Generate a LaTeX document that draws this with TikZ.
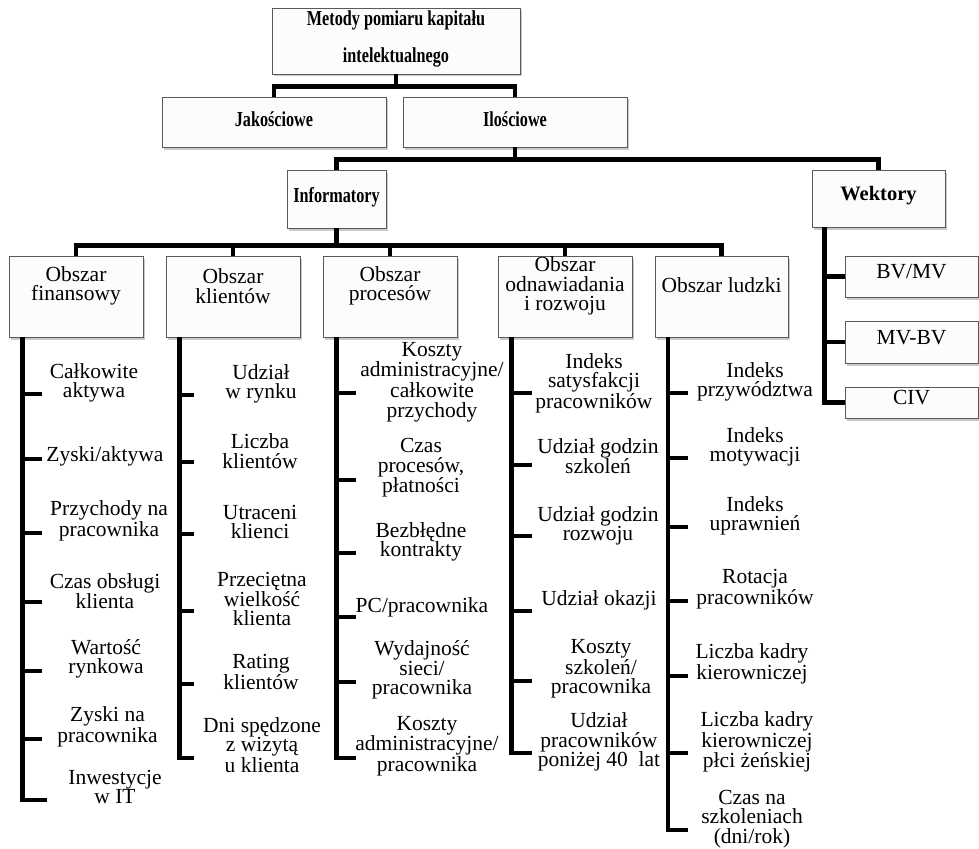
\documentclass[tikz,border=0pt]{standalone}
\usepackage{fontspec}
\setmainfont{Liberation Serif}
\newfontfamily\condbf[FakeStretch=0.76]{Liberation Serif}
\usetikzlibrary{shadows}
\tikzset{
  box/.style={draw=black!65, line width=0.8pt, fill=black!1, inner sep=0pt,
    drop shadow={shadow xshift=2pt, shadow yshift=-2.5pt, opacity=0.35, fill=black!60}},
  conn/.style={line width=4.5pt, line join=miter, draw=black},
  txt/.style={font=\fontsize{21.5}{19.5}\selectfont, align=center, inner sep=0pt},
  btxt/.style={font=\condbf\bfseries\fontsize{21.3}{37}\selectfont, align=center, inner sep=0pt},
  wtxt/.style={font=\bfseries\fontsize{20.5}{24}\selectfont, align=center, inner sep=0pt}
}
\begin{document}
\begin{tikzpicture}[x=1pt,y=-1pt]
\useasboundingbox (0,0) rectangle (979,848);
% ---- boxes
\node[box, minimum width=248, minimum height=66] (title) at (396,41) {};
\node[box, minimum width=224, minimum height=50] (jak) at (274,122) {};
\node[box, minimum width=224, minimum height=50] (ilo) at (515,122) {};
\node[box, minimum width=99, minimum height=58] (inf) at (336.5,199) {};
\node[box, minimum width=133, minimum height=57] (wek) at (878.5,198.5) {};
\node[box, minimum width=134, minimum height=81] (fin) at (76,296.5) {};
\node[box, minimum width=134, minimum height=81] (cl) at (233,296.5) {};
\node[box, minimum width=134, minimum height=81] (pro) at (390,296.5) {};
\node[box, minimum width=134, minimum height=81] (odn) at (565,296.5) {};
\node[box, minimum width=133, minimum height=81] (lud) at (721.5,296.5) {};
\node[box, minimum width=133, minimum height=41] (bv) at (911.5,276.5) {};
\node[box, minimum width=133, minimum height=42] (mvbv) at (911.5,342) {};
\node[box, minimum width=133, minimum height=31] (civ) at (911.5,402.5) {};
% ---- box texts
\node[btxt] (titleT) at (396,38.5) {Metody pomiaru kapitału\\intelektualnego};
\node[btxt] (jakT) at (274,119) {Jakościowe};
\node[btxt] (iloT) at (515,119) {Ilościowe};
\node[btxt] (infT) at (336.5,197) {Informatory};
\node[wtxt] (wekT) at (878.5,196) {Wektory};
\node[txt] (finT) at (76,286) {Obszar\\finansowy};
\node[txt] (clT) at (233,286) {Obszar\\klientów};
\node[txt] (proT) at (390,286) {Obszar\\procesów};
\node[txt] (odnT) at (565,286) {Obszar\\odnawiadania\\i rozwoju};
\node[txt] (ludT) at (721.5,285) {Obszar ludzki};
\node[txt] (bvT) at (911.5,272) {BV/MV};
\node[txt] (mvbvT) at (911.5,338) {MV-BV};
\node[txt] (civT) at (911.5,398) {CIV};
% ---- upper connectors
\coordinate (tbar) at ([yshift=-12pt]title.south);
\draw[conn] (title.south) -- (tbar);
\draw[conn] (jak.north) |- (tbar) -| (ilo.north);
\coordinate (ibar) at ([yshift=-12pt]ilo.south);
\draw[conn] (ilo.south) -- (ibar);
\draw[conn] (inf.north) |- (ibar) -| (wek.north);
\coordinate (obar) at ([yshift=-17pt]inf.south);
\draw[conn] (inf.south) -- (obar);
\draw[conn] (fin.north) |- (obar) -| (lud.north);
\draw[conn] (cl.north) -- (cl.north |- obar);
\draw[conn] (pro.north) -- (pro.north |- obar);
\draw[conn] (odn.north) -- (odn.north |- obar);
% ---- vectors
\coordinate (ws) at ([xshift=13pt]wek.south west);
\draw[conn] (ws) |- (civ.west);
\draw[conn] (ws |- bv.west) -- (bv.west);
\draw[conn] (ws |- mvbv.west) -- (mvbv.west);
% ---- finansowy
\coordinate (fs) at ([xshift=14pt]fin.south west);
\foreach \i/\y in {1/394,2/459,3/533,4/602,5/671,6/739} {\coordinate (f\i) at (42,\y);}
\coordinate (f7) at (47,800);
\draw[conn] (fs) |- (f7);
\foreach \i in {1,...,6} {\draw[conn] (fs |- f\i) -- (f\i);}
\node[txt] (fi1) at (94,383) {Całkowite\\aktywa};
\node[txt] (fi2) at (105,456) {Zyski/aktywa};
\node[txt] (fi3) at (109,521) {Przychody na\\pracownika};
\node[txt] (fi4) at (105,591) {Czas obsługi\\klienta};
\node[txt] (fi5) at (106,659) {Wartość\\rynkowa};
\node[txt] (fi6) at (107.5,727) {Zyski na\\pracownika};
\node[txt] (fi7) at (115,787) {Inwestycje\\w IT};
% ---- klientow
\coordinate (cs) at ([xshift=14pt]cl.south west);
\foreach \i/\y in {1/395,2/462,3/534,4/611,5/684,6/758} {\coordinate (c\i) at (194,\y);}
\draw[conn] (cs) |- (c6);
\foreach \i in {1,...,5} {\draw[conn] (cs |- c\i) -- (c\i);}
\node[txt] (ci1) at (261,384) {Udział\\w rynku};
\node[txt] (ci2) at (260,451) {Liczba\\klientów};
\node[txt] (ci3) at (260,522) {Utraceni\\klienci};
\node[txt] (ci4) at (262,599) {Przeciętna\\wielkość\\klienta};
\node[txt] (ci5) at (261,672) {Rating\\klientów};
\node[txt] (ci6) at (262,745) {Dni spędzone\\z wizytą\\u klienta};
% ---- procesow
\coordinate (ps) at ([xshift=14pt]pro.south west);
\foreach \i/\y in {1/393,2/480,3/553,4/617,5/682,6/758} {\coordinate (p\i) at (356,\y);}
\draw[conn] (ps) |- (p6);
\foreach \i in {1,...,5} {\draw[conn] (ps |- p\i) -- (p\i);}
\node[txt] (pi1) at (432,382) {Koszty\\administracyjne/\\całkowite\\przychody};
\node[txt] (pi2) at (421,468) {Czas\\procesów,\\płatności};
\node[txt] (pi3) at (421,542) {Bezbłędne\\kontrakty};
\node[txt] (pi4) at (422,607) {PC/pracownika};
\node[txt] (pi5) at (422,670) {Wydajność\\sieci/\\pracownika};
\node[txt] (pi6) at (427,746) {Koszty\\administracyjne/\\pracownika};
% ---- odnawiadania
\coordinate (os) at ([xshift=14pt]odn.south west);
\foreach \i/\y in {1/393,2/465,3/536,4/611,5/681,6/753} {\coordinate (o\i) at (532,\y);}
\draw[conn] (os) |- (o6);
\foreach \i in {1,...,5} {\draw[conn] (os |- o\i) -- (o\i);}
\node[txt] (oi1) at (594,383) {Indeks\\satysfakcji\\pracowników};
\node[txt] (oi2) at (598,456) {Udział godzin\\szkoleń};
\node[txt] (oi3) at (598,526) {Udział godzin\\rozwoju};
\node[txt] (oi4) at (599,600) {Udział okazji};
\node[txt] (oi5) at (601,669) {Koszty\\szkoleń/\\pracownika};
\node[txt] (oi6) at (599,742) {Udział\\pracowników\\poniżej 40~ lat};
% ---- ludzki
\coordinate (ls) at ([xshift=13.5pt]lud.south west);
\foreach \i/\y in {1/393,2/458,3/527,4/601,5/676,6/753,7/830} {\coordinate (l\i) at (688,\y);}
\draw[conn] (ls) |- (l7);
\foreach \i in {1,...,6} {\draw[conn] (ls |- l\i) -- (l\i);}
\node[txt] (li1) at (755,382) {Indeks\\przywództwa};
\node[txt] (li2) at (755,447) {Indeks\\motywacji};
\node[txt] (li3) at (755,516) {Indeks\\uprawnień};
\node[txt] (li4) at (755,589) {Rotacja\\pracowników};
\node[txt] (li5) at (752,664) {Liczba kadry\\kierowniczej};
\node[txt] (li6) at (757,742) {Liczba kadry\\kierowniczej\\płci żeńskiej};
\node[txt] (li7) at (752,819) {Czas na\\szkoleniach\\(dni/rok)};
\end{tikzpicture}
\end{document}
